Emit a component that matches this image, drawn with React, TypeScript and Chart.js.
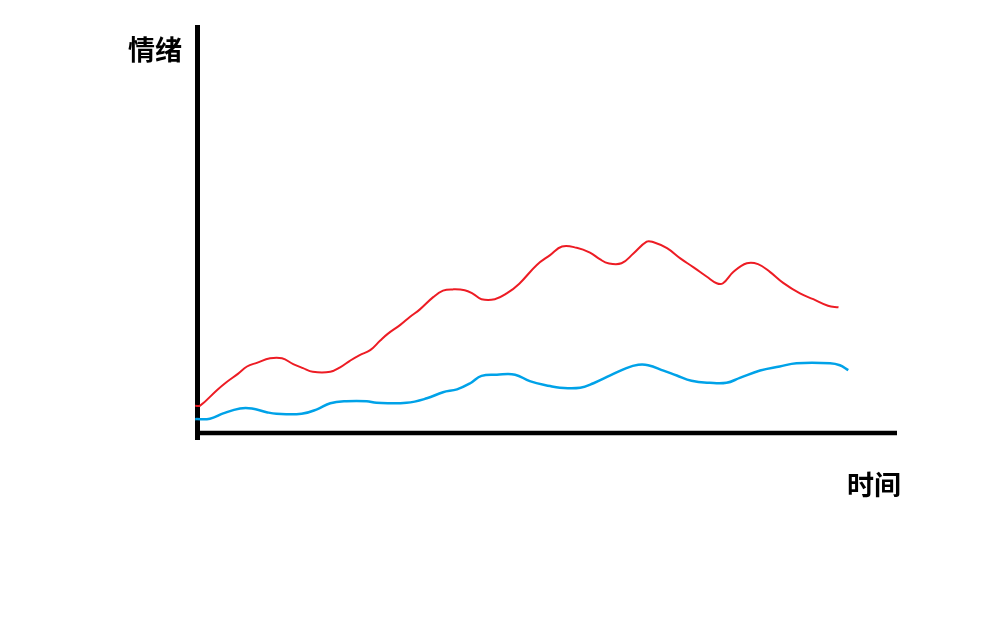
import React, { useEffect, useRef } from "react";
import { Chart, registerables } from "chart.js";

Chart.register(...registerables);

// Hand-drawn sketch: emotion (情绪) over time (时间), two curves.
const yAxisLabel = "情绪";
const xAxisLabel = "时间";

const redTime = [-0.4, 0.3, 2.7, 4.1, 5.7, 7.0, 8.4, 10.3, 12.0, 13.6, 15.0, 16.4, 18.9, 20.3, 21.7, 23.1, 24.6, 26.0, 27.1, 28.9, 30.3, 31.7, 33.6, 35.0, 36.4, 38.1, 39.3, 40.5, 42.4, 44.1, 45.9, 48.4, 50.3, 52.0, 54.1, 56.0, 57.4, 58.6, 60.5, 62.2, 64.1, 65.0, 67.0, 68.9, 70.8, 72.7, 74.1, 75.0, 76.5, 78.4, 80.0, 81.7, 83.6, 86.0, 87.9, 90.0, 91.5];
const redEmotion = [6.7, 6.7, 10.5, 12.5, 14.5, 16.3, 17.2, 18.3, 18.3, 16.9, 15.9, 15.0, 15.0, 16.1, 17.7, 19.1, 20.3, 22.6, 24.3, 26.5, 28.5, 30.3, 33.3, 34.9, 35.2, 35.0, 34.1, 32.8, 32.8, 34.2, 36.6, 41.2, 43.6, 45.7, 45.4, 44.2, 42.6, 41.6, 41.6, 44.0, 46.9, 46.8, 45.3, 42.8, 40.6, 38.3, 36.7, 36.7, 39.5, 41.6, 41.4, 39.5, 36.8, 34.2, 32.8, 31.2, 30.8];

const blueTime = [-0.4, 1.7, 3.6, 6.0, 7.7, 9.8, 11.2, 14.8, 17.0, 18.9, 21.2, 24.1, 25.5, 29.8, 32.7, 35.0, 37.0, 38.9, 40.5, 42.7, 45.3, 47.4, 50.3, 51.7, 54.6, 56.5, 58.9, 61.2, 62.9, 64.3, 66.5, 68.4, 70.5, 73.1, 75.5, 77.4, 80.3, 83.1, 85.5, 90.3, 91.7, 92.9];
const blueEmotion = [3.4, 3.5, 4.8, 6.0, 6.0, 5.1, 4.7, 4.7, 5.8, 7.3, 7.8, 7.8, 7.4, 7.4, 8.5, 10.0, 10.7, 12.2, 14.0, 14.3, 14.3, 12.7, 11.5, 11.1, 11.1, 12.2, 14.1, 15.9, 16.7, 16.6, 15.3, 14.1, 12.8, 12.3, 12.3, 13.5, 15.3, 16.3, 17.1, 17.1, 16.6, 15.4];

const toPoints = (xs: number[], ys: number[]) => xs.map((x, i) => ({ x, y: ys[i] }));

const axesPlugin = {
  id: "sketchAxes",
  beforeDatasetsDraw(chart: any) {
    const { ctx, chartArea } = chart;
    ctx.save();
    ctx.strokeStyle = "#000000";
    ctx.lineCap = "butt";
    // y axis
    ctx.lineWidth = 5;
    ctx.beginPath();
    ctx.moveTo(chartArea.left - 0.5, chartArea.top);
    ctx.lineTo(chartArea.left - 0.5, chartArea.bottom + 7);
    ctx.stroke();
    // x axis
    ctx.lineWidth = 4.5;
    ctx.beginPath();
    ctx.moveTo(chartArea.left - 3, chartArea.bottom);
    ctx.lineTo(chartArea.right - 1, chartArea.bottom);
    ctx.stroke();
    ctx.restore();
  },
  afterDraw(chart: any) {
    const { ctx, chartArea } = chart;
    ctx.save();
    ctx.fillStyle = "#000000";
    ctx.font = "bold 27px 'Noto Sans CJK SC', sans-serif";
    ctx.textBaseline = "middle";
    ctx.textAlign = "right";
    ctx.fillText(yAxisLabel, chartArea.left - 16, chartArea.top + 25);
    ctx.textAlign = "center";
    ctx.fillText(xAxisLabel, chartArea.right - 24, chartArea.bottom + 52);
    ctx.restore();
  },
};

export default function App() {
  const ref = useRef<HTMLCanvasElement | null>(null);
  useEffect(() => {
    if (!ref.current) return;
    const chart = new Chart(ref.current, {
      type: "line",
      data: {
        datasets: [
          {
            label: "red",
            data: toPoints(redTime, redEmotion),
            borderColor: "#ED1C24",
            borderWidth: 2,
            pointRadius: 0,
            tension: 0.4,
            fill: false,
            clip: false as any,
          },
          {
            label: "blue",
            data: toPoints(blueTime, blueEmotion),
            borderColor: "#00A2E8",
            borderWidth: 2.5,
            pointRadius: 0,
            tension: 0.4,
            fill: false,
            clip: false as any,
          },
        ],
      },
      options: {
        responsive: false,
        animation: false,
        layout: { padding: { left: 198, top: 25, right: 110, bottom: 197 } },
        plugins: { legend: { display: false }, tooltip: { enabled: false } },
        scales: {
          x: { type: "linear", min: 0, max: 100, display: false },
          y: { type: "linear", min: 0, max: 100, display: false },
        },
      },
      plugins: [axesPlugin],
    });
    return () => chart.destroy();
  }, []);
  return (
    <div style={{ position: "absolute", left: 0, top: 0, width: 1008, height: 630, background: "#fff" }}>
      <canvas ref={ref} width={1008} height={630} />
    </div>
  );
}
